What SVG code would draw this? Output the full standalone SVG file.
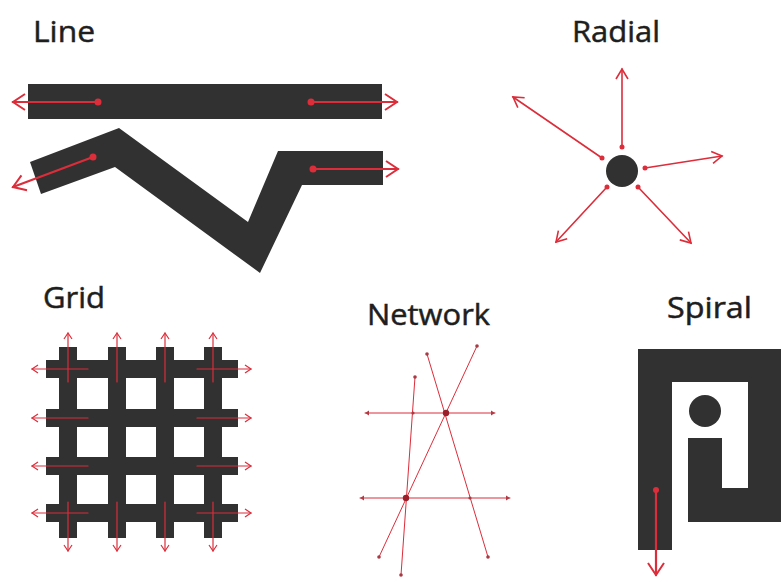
<svg xmlns="http://www.w3.org/2000/svg" width="781" height="582" viewBox="0 0 781 582">
<style>
.title{font-family:"Open Sans","DejaVu Sans",sans-serif;font-size:30px;fill:#1e1e1e;stroke:#1e1e1e;stroke-width:0.5}
.shape{fill:#313131}
.red{stroke:#dc2d3a;fill:none;stroke-linecap:round}
.dot{fill:#dc2d3a}
</style>
<defs>
<marker id="aL" markerUnits="userSpaceOnUse" orient="auto-start-reverse" overflow="visible" refX="0" refY="0" markerWidth="1" markerHeight="1">
<path d="M-12,-8 L0,0 L-12,8" fill="none" stroke="#dc2d3a" stroke-width="2"/>
</marker>
<marker id="aR" markerUnits="userSpaceOnUse" orient="auto-start-reverse" overflow="visible" refX="0" refY="0" markerWidth="1" markerHeight="1">
<path d="M-10,-6 L0,0 L-10,6" fill="none" stroke="#dc2d3a" stroke-width="1.6"/>
</marker>
<marker id="aG" markerUnits="userSpaceOnUse" orient="auto-start-reverse" overflow="visible" refX="0" refY="0" markerWidth="1" markerHeight="1">
<path d="M-6,-4 L0,0 L-6,4" fill="none" stroke="#dc2d3a" stroke-width="1.2"/>
</marker>
<marker id="aN" markerUnits="userSpaceOnUse" orient="auto-start-reverse" overflow="visible" refX="0" refY="0" markerWidth="1" markerHeight="1">
<path d="M-4,-2.5 L0,0 L-4,2.5 Z" fill="#b23a44"/>
</marker>
</defs>

<g id="titles">
<text class="title" x="33" y="42" textLength="62" lengthAdjust="spacingAndGlyphs">Line</text>
<text class="title" x="572" y="42" textLength="88" lengthAdjust="spacingAndGlyphs">Radial</text>
<text class="title" x="43" y="308" textLength="62" lengthAdjust="spacingAndGlyphs">Grid</text>
<text class="title" x="367" y="325" textLength="123" lengthAdjust="spacingAndGlyphs">Network</text>
<text class="title" x="667" y="318" textLength="85" lengthAdjust="spacingAndGlyphs">Spiral</text>
</g>

<g id="line-straight">
<rect class="shape" x="28" y="84" width="354" height="35"/>
</g>
<g id="line-zigzag">
<polygon class="shape" points="30,162 119,128 248,222 278,151 383,151 383,185 302,185 260,273 115,167 41,194"/>
</g>

<g id="radial">
<circle class="shape" cx="622" cy="171" r="16"/>
</g>

<g id="grid">
<rect class="shape" x="59" y="347" width="18" height="191"/>
<rect class="shape" x="108" y="347" width="18" height="191"/>
<rect class="shape" x="156" y="347" width="18" height="191"/>
<rect class="shape" x="204" y="347" width="18" height="191"/>
<rect class="shape" x="46" y="360" width="192" height="18"/>
<rect class="shape" x="46" y="409" width="192" height="18"/>
<rect class="shape" x="46" y="457" width="192" height="18"/>
<rect class="shape" x="46" y="504" width="192" height="18"/>
</g>

<g id="spiral">
<path class="shape" d="M638,349 H781 V522 H688 V438 H722 V488 H748 V382 H672 V550 H638 Z"/>
<circle class="shape" cx="705" cy="411" r="16"/>
</g>

<g id="connectors">
<line class="red" x1="98" y1="102" x2="13" y2="102" stroke-width="2.2" marker-end="url(#aL)"/>
<circle class="dot" cx="98" cy="102" r="3.5"/>
<line class="red" x1="311" y1="102" x2="397" y2="102" stroke-width="2.2" marker-end="url(#aL)"/>
<circle class="dot" cx="311" cy="102" r="3.5"/>
<line class="red" x1="93" y1="157" x2="13" y2="187" stroke-width="2.2" marker-end="url(#aL)"/>
<circle class="dot" cx="93" cy="157" r="3.5"/>
<line class="red" x1="313" y1="169" x2="398" y2="169" stroke-width="2.2" marker-end="url(#aL)"/>
<circle class="dot" cx="313" cy="169" r="3.5"/>
<line class="red" x1="622" y1="147" x2="622" y2="69" stroke-width="1.6" marker-end="url(#aR)"/>
<line class="red" x1="602" y1="158" x2="513" y2="97" stroke-width="1.6" marker-end="url(#aR)"/>
<line class="red" x1="645" y1="168" x2="722" y2="156" stroke-width="1.6" marker-end="url(#aR)"/>
<line class="red" x1="607" y1="187" x2="556" y2="242" stroke-width="1.6" marker-end="url(#aR)"/>
<line class="red" x1="638" y1="187" x2="691" y2="243" stroke-width="1.6" marker-end="url(#aR)"/>
<circle class="dot" cx="622" cy="147" r="2.5"/>
<circle class="dot" cx="602" cy="158" r="2.5"/>
<circle class="dot" cx="645" cy="168" r="2.5"/>
<circle class="dot" cx="607" cy="187" r="2.5"/>
<circle class="dot" cx="638" cy="187" r="2.5"/>
<g stroke-width="1.2">
<line class="red" x1="68" y1="382" x2="68" y2="333" marker-end="url(#aG)"/>
<line class="red" x1="117" y1="382" x2="117" y2="333" marker-end="url(#aG)"/>
<line class="red" x1="165" y1="382" x2="165" y2="333" marker-end="url(#aG)"/>
<line class="red" x1="213" y1="382" x2="213" y2="333" marker-end="url(#aG)"/>
<line class="red" x1="68" y1="502" x2="68" y2="551" marker-end="url(#aG)"/>
<line class="red" x1="117" y1="502" x2="117" y2="551" marker-end="url(#aG)"/>
<line class="red" x1="165" y1="502" x2="165" y2="551" marker-end="url(#aG)"/>
<line class="red" x1="213" y1="502" x2="213" y2="551" marker-end="url(#aG)"/>
<line class="red" x1="88" y1="369" x2="32" y2="369" marker-end="url(#aG)"/>
<line class="red" x1="88" y1="418" x2="32" y2="418" marker-end="url(#aG)"/>
<line class="red" x1="88" y1="466" x2="32" y2="466" marker-end="url(#aG)"/>
<line class="red" x1="88" y1="513" x2="32" y2="513" marker-end="url(#aG)"/>
<line class="red" x1="197" y1="369" x2="251" y2="369" marker-end="url(#aG)"/>
<line class="red" x1="197" y1="418" x2="251" y2="418" marker-end="url(#aG)"/>
<line class="red" x1="197" y1="466" x2="251" y2="466" marker-end="url(#aG)"/>
<line class="red" x1="197" y1="513" x2="251" y2="513" marker-end="url(#aG)"/>
</g>
<g stroke-width="1">
<line class="red" x1="365" y1="413" x2="495" y2="413" stroke="#c8434c" marker-start="url(#aN)" marker-end="url(#aN)"/>
<line class="red" x1="360" y1="498" x2="510" y2="498" stroke="#c8434c" marker-start="url(#aN)" marker-end="url(#aN)"/>
<line class="red" x1="415" y1="377" x2="401" y2="575"/>
<line class="red" x1="427" y1="354" x2="488" y2="557"/>
<line class="red" x1="477" y1="346" x2="379" y2="557"/>
</g>
<g fill="#a83a44">
<circle cx="415" cy="377" r="1.8"/>
<circle cx="401" cy="575" r="1.8"/>
<circle cx="427" cy="354" r="1.8"/>
<circle cx="488" cy="557" r="1.8"/>
<circle cx="477" cy="346" r="1.8"/>
<circle cx="379" cy="557" r="1.8"/>
<circle cx="413" cy="413" r="1.6"/>
<circle cx="470" cy="498" r="1.6"/>
</g>
<circle cx="446" cy="413" r="3.2" fill="#9a1f2a"/>
<circle cx="406" cy="498" r="3.2" fill="#9a1f2a"/>
<line class="red" x1="656" y1="490" x2="656" y2="575" stroke-width="2.2" marker-end="url(#aL)"/>
<circle class="dot" cx="656" cy="490" r="3"/>
</g>
</svg>
